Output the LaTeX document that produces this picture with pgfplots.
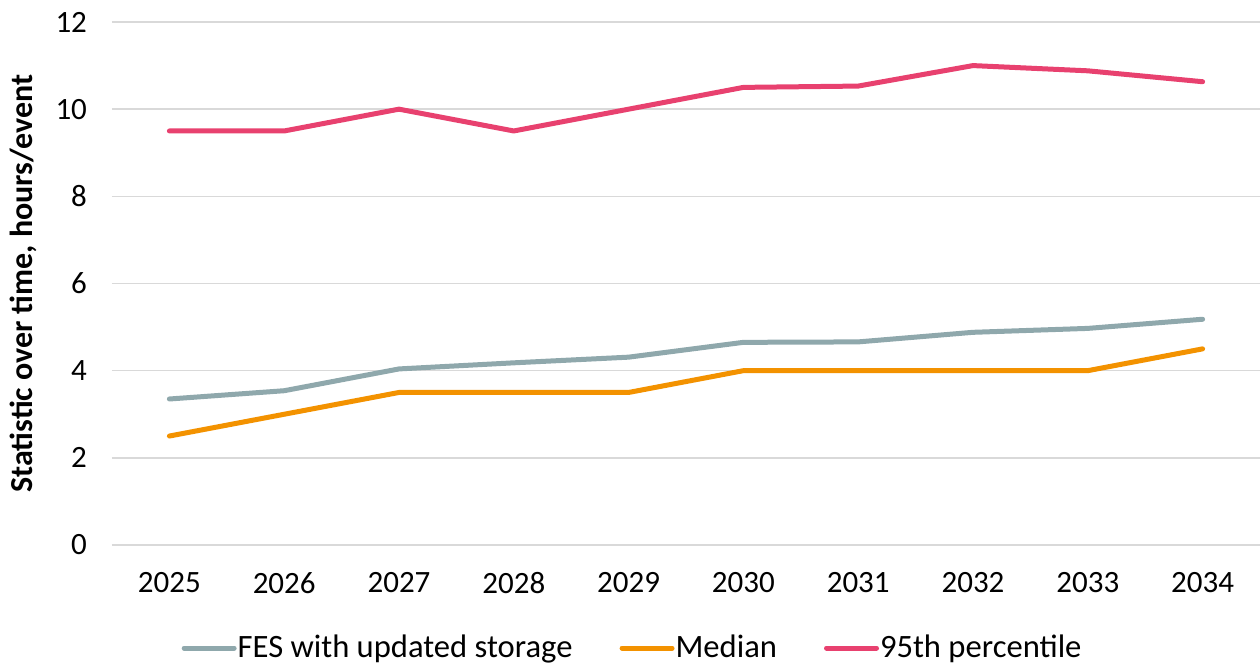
\documentclass[border=0pt]{standalone}
\usepackage{fontspec}
\setmainfont{Carlito}
\usepackage{pgfplots}
\pgfplotsset{compat=1.18}

\definecolor{fesgrey}{RGB}{143,168,172}
\definecolor{medorange}{RGB}{243,146,0}
\definecolor{pctpink}{RGB}{232,65,111}
\definecolor{gridgrey}{RGB}{217,217,217}

\begin{document}
\begin{tikzpicture}
\path[use as bounding box] (0,0) rectangle (630pt,333pt);
\begin{axis}[
  at={(56pt,60.5pt)}, anchor=south west,
  scale only axis,
  width=574pt, height=261.5pt,
  xmin=-0.5, xmax=9.5,
  ymin=0, ymax=12,
  xtick={0,...,9},
  xticklabels={2025,2026,2027,2028,2029,2030,2031,2032,2033,2034},
  ytick={0,2,...,12},
  ymajorgrids,
  grid style={gridgrey, line width=0.8pt},
  axis line style={draw=none},
  major tick length=0pt,
  tick label style={font=\fontsize{15.5}{18}\selectfont, text=black},
  /pgf/number format/assume math mode=true,
  xticklabel style={yshift=-10pt},
  yticklabel style={xshift=-9pt},
  ylabel={Statistic over time, hours/event},
  ylabel style={font=\bfseries\fontsize{16}{19}\selectfont,
    at={(axis description cs:-0.0775,0.5)}, anchor=center, rotate=0},
  legend columns=3,
  legend style={
    at={(rel axis cs:0.453,-0.197)}, anchor=center,
    draw=none, fill=none,
    font=\fontsize{16.3}{19}\selectfont,
    nodes={inner sep=0.5pt},
    /tikz/every even column/.append style={column sep=23pt},
  },
  legend image code/.code={
    \draw[#1, line width=2.5pt, line cap=round] (0pt,0pt) -- (25pt,0pt);
  },
  every axis plot/.append style={line width=2.5pt, line cap=round, line join=round, mark=none},
]
\addplot[fesgrey] coordinates {
  (0,3.35) (1,3.54) (2,4.04) (3,4.18) (4,4.31)
  (5,4.65) (6,4.66) (7,4.88) (8,4.97) (9,5.18)
};
\addlegendentry{FES with updated storage}
\addplot[medorange] coordinates {
  (0,2.5) (1,3.0) (2,3.5) (3,3.5) (4,3.5)
  (5,4.0) (6,4.0) (7,4.0) (8,4.0) (9,4.5)
};
\addlegendentry{Median}
\addplot[pctpink] coordinates {
  (0,9.5) (1,9.5) (2,10.0) (3,9.5) (4,10.0)
  (5,10.5) (6,10.53) (7,11.0) (8,10.88) (9,10.63)
};
\addlegendentry{95th percentile}
\end{axis}
\end{tikzpicture}
\end{document}
